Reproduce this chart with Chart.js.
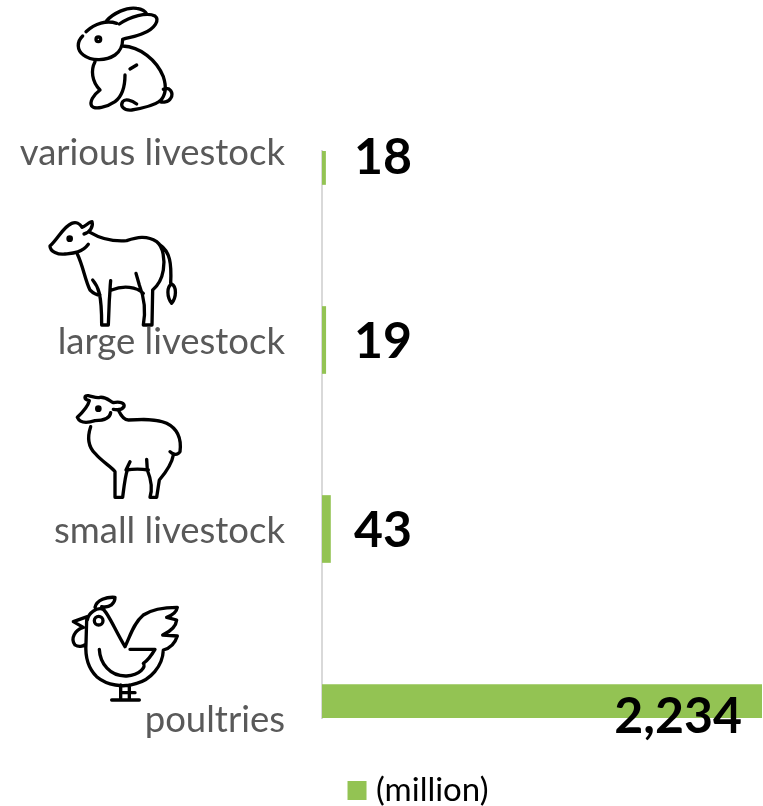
<!DOCTYPE html>
<html>
<head>
<meta charset="utf-8">
<title>Livestock</title>
<script src="https://cdn.jsdelivr.net/npm/chart.js@4"></script>
<style>
  html, body { margin: 0; padding: 0; background: #fff; }
  #wrap { width: 763px; height: 806px; overflow: hidden; }
</style>
</head>
<body>
<div id="wrap"><canvas id="chart" width="763" height="806"></canvas></div>
<script>
const categories = ['various livestock', 'large livestock', 'small livestock', 'poultries'];
const headcount = [18, 19, 43, 2234];
const seriesName = '(million)';

const green = '#93c353';
const grey = '#595959';

// hand traced outlines, units are 3x page pixels, [offsetY, path]
const icons = [
  // rabbit
  [0, 'M258 95C285 70 320 60 350 70M358 72C390 50 440 35 465 48C480 60 465 85 430 100C410 110 385 112 368 118M320 62C340 40 380 20 410 25C425 27 437 35 440 42M248 108C230 125 230 150 250 165C275 185 320 182 345 165C360 155 368 135 368 118M368 138C420 140 470 180 490 230C500 260 498 285 480 303C460 318 425 325 395 330C370 332 360 318 368 305C375 295 395 300 410 312M285 185C272 210 275 245 300 270C280 285 268 305 275 318C285 330 320 322 345 305C365 290 375 260 375 225M390 207L410 195M490 268C510 258 522 280 512 295C505 308 488 308 478 304M302 118A7 7 0 1 1 288 118A7 7 0 1 1 302 118'],
  // cow
  [0, 'M150 738C175 715 190 680 215 670C228 665 240 670 246 682C255 680 268 665 276 665C280 680 270 698 252 702M150 738C150 755 175 765 195 762C215 760 245 760 265 733M270 697C300 715 340 725 380 722C410 712 440 705 470 725C490 740 495 780 490 810C485 840 470 860 458 870L456 975L430 975C438 930 432 890 418 855L408 820M430 880C410 860 370 855 335 870M278 840C295 860 305 880 305 975L325 975L328 900C330 880 330 860 332 842M232 762C250 800 255 840 270 870C285 885 300 885 300 885M480 735C510 755 515 790 512 850M515 852C530 860 530 890 515 910C500 890 500 860 515 852ZM214 716A5 5 0 1 1 204 716A5 5 0 1 1 214 716'],
  // sheep
  [1170, 'M232 82C250 65 265 45 268 32C250 28 252 15 265 17C280 20 290 25 300 22C320 20 330 35 340 38C360 33 375 40 372 50C365 62 350 60 340 58M232 82C240 100 260 100 285 92C310 92 330 85 332 68M355 60C362 75 370 90 385 90C420 88 470 85 500 100C530 115 545 145 540 185C530 200 515 190 510 185M520 195C515 225 495 250 478 270L470 322L450 322C460 290 450 260 442 240L440 208M445 240C425 237 400 237 378 240L390 215M272 110C262 140 265 170 285 190C305 215 335 230 345 245L345 322L368 322C372 290 375 260 382 240M300 56A5 5 0 1 1 290 56A5 5 0 1 1 300 56'],
  // chicken
  [1170, 'M285 652C290 630 320 620 345 622C345 640 330 655 305 650M262 690C265 670 290 650 310 658C325 670 345 720 375 770C390 740 400 700 430 675C460 655 500 652 532 652C530 665 520 675 500 682L530 690C528 710 510 725 488 735L532 738C525 760 510 775 490 780C488 830 450 870 410 880C370 895 320 885 290 860C265 835 255 800 258 760L260 690M262 680L220 695L250 712C225 720 210 745 225 765C235 772 250 770 258 762M309 692A13 13 0 1 1 283 692A13 13 0 1 1 309 692M298 778C300 820 330 860 380 858C420 855 440 830 430 820C445 810 455 795 465 778L390 778M335 930L418 930M362 885L362 930M388 885L388 930M362 908L405 908']
];

const iconPlugin = {
  id: 'icons',
  afterDraw(chart) {
    const ctx = chart.ctx;
    ctx.save();
    ctx.strokeStyle = '#000';
    ctx.lineWidth = 10;
    ctx.lineCap = 'round';
    ctx.lineJoin = 'round';
    ctx.scale(1 / 3, 1 / 3);
    icons.forEach(([dy, d]) => {
      ctx.save();
      ctx.translate(0, dy);
      ctx.stroke(new Path2D(d));
      ctx.restore();
    });
    ctx.restore();
  }
};

// no datalabels plugin here, so the numbers are written next to the bars
const labelNudge = [7, 2, 2, -1];
const valueLabels = {
  id: 'valueLabels',
  afterDatasetsDraw(chart) {
    const ctx = chart.ctx;
    const base = chart.scales.x.getPixelForValue(0);
    ctx.save();
    ctx.font = 'bold 50px Lato';
    ctx.fillStyle = '#000';
    ctx.textAlign = 'right';
    ctx.textBaseline = 'middle';
    chart.getDatasetMeta(0).data.forEach((bar, i) => {
      const right = bar.x > 500 ? bar.x - 20 : base + 90;
      ctx.fillText(headcount[i].toLocaleString('en-US'), right, bar.y + labelNudge[i]);
    });
    ctx.restore();
  }
};

// legend sits off centre and lower than the layout would put it
const moveLegend = {
  id: 'moveLegend',
  afterLayout(chart) {
    const l = chart.legend;
    l.left += 40.5;
    l.right += 40.5;
    l.top += 28;
    l.bottom += 28;
  },
  // tick labels read a little low in the original
  beforeDraw(chart) {
    chart.scales.y.getLabelItems().forEach(item => { item.options.translation[1] += 2.5; });
  }
};

new Chart(document.getElementById('chart'), {
  type: 'bar',
  data: {
    labels: categories,
    datasets: [{
      label: seriesName,
      data: headcount,
      backgroundColor: green,
      barThickness: 67
    }]
  },
  options: {
    indexAxis: 'y',
    responsive: false,
    animation: false,
    layout: { padding: { top: 151, right: 1, bottom: 17 } },
    scales: {
      x: { display: false, min: 0, max: 2234 },
      y: {
        offset: false,
        afterFit(scale) { scale.width = 322; },
        grid: { display: false, drawTicks: false },
        border: { color: '#d9d9d9', width: 2 },
        ticks: {
          autoSkip: false,
          color: grey,
          padding: 37,
          font: { family: 'Lato', size: 36.5 }
        }
      }
    },
    plugins: {
      tooltip: { enabled: false },
      legend: {
        position: 'bottom',
        labels: {
          color: grey,
          padding: 28,
          boxWidth: 5,
          boxHeight: 5,
          font: { family: 'Lato', size: 33 },
          // thick stroke on a small box keeps the text close to the square
          generateLabels: () => [{ text: seriesName, fillStyle: green, strokeStyle: green, lineWidth: 14 }]
        }
      }
    }
  },
  plugins: [iconPlugin, valueLabels, moveLegend]
});
</script>
</body>
</html>
